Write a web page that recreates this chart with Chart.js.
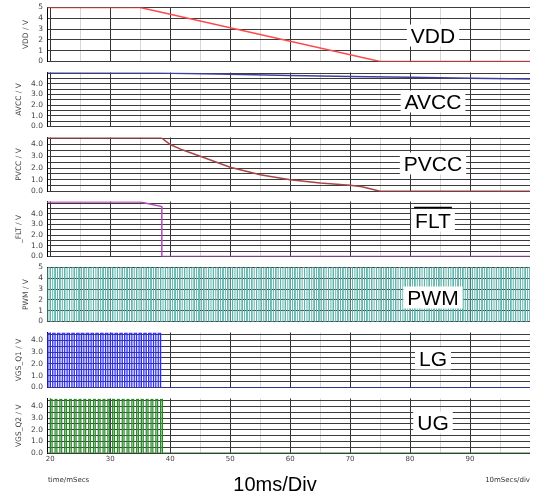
<!DOCTYPE html>
<html>
<head>
<meta charset="utf-8">
<script src="https://cdn.jsdelivr.net/npm/chart.js@4"></script>
<style>
  body { margin: 0; background: #fff; }
  #wrap { position: relative; width: 535px; height: 497px; overflow: hidden; }
  .panel { position: absolute; left: 0; width: 535px; }
</style>
</head>
<body>
<div id="wrap"></div>
<script>
// ==== Data (time in ms, values in V) ====
const xLabels = [20, 30, 40, 50, 60, 70, 80, 90];

const vddTime = [19.45, 35, 75, 100];
const vddVolts = [5, 5, 0, 0];

const avccTime = [19.45, 38, 50, 60, 70, 80, 90, 100];
const avccVolts = [5.02, 5.0, 4.88, 4.78, 4.68, 4.6, 4.52, 4.44];

const pvccTime = [19.45, 38.5, 40, 42, 45, 50, 55, 60, 65, 70, 72, 75, 100];
const pvccVolts = [4.58, 4.58, 4.0, 3.55, 3.0, 2.06, 1.42, 1.0, 0.72, 0.53, 0.4, 0.03, 0.03];

const fltTime = [19.45, 35, 38.6, 38.6, 100];
const fltVolts = [5.1, 5.1, 4.68, 0, 0];

// square waves: rising edge times, pulse width and high level
const pwmRise = [
  19.6, 20.4, 21.2, 22.0, 22.8, 23.6, 24.4, 25.2, 26.0, 26.8,
  27.6, 28.4, 29.2, 30.0, 30.8, 31.6, 32.4, 33.2, 34.0, 34.8,
  35.6, 36.4, 37.2, 38.0, 38.8, 39.6, 40.4, 41.2, 42.0, 42.8,
  43.6, 44.4, 45.2, 46.0, 46.8, 47.6, 48.4, 49.2, 50.0, 50.8,
  51.6, 52.4, 53.2, 54.0, 54.8, 55.6, 56.4, 57.2, 58.0, 58.8,
  59.6, 60.4, 61.2, 62.0, 62.8, 63.6, 64.4, 65.2, 66.0, 66.8,
  67.6, 68.4, 69.2, 70.0, 70.8, 71.6, 72.4, 73.2, 74.0, 74.8,
  75.6, 76.4, 77.2, 78.0, 78.8, 79.6, 80.4, 81.2, 82.0, 82.8,
  83.6, 84.4, 85.2, 86.0, 86.8, 87.6, 88.4, 89.2, 90.0, 90.8,
  91.6, 92.4, 93.2, 94.0, 94.8, 95.6, 96.4, 97.2, 98.0, 98.8,
  99.6
];
const pwmWidth = 0.4;
const pwmHigh = 5;

const lgRise = pwmRise.filter(t => t <= 38.0);
const lgWidth = 0.4;
const lgHigh = 4.6;

const ugRise = [
  20.0, 20.8, 21.6, 22.4, 23.2, 24.0, 24.8, 25.6, 26.4, 27.2,
  28.0, 28.8, 29.6, 30.4, 31.2, 32.0, 32.8, 33.6, 34.4, 35.2,
  36.0, 36.8, 37.6, 38.4
];
const ugWidth = 0.3;
const ugHigh = 4.6;

const tStart = 19.45, tEnd = 100;

function toPoints(xs, ys) {
  return xs.map((x, i) => ({ x: x, y: ys[i] }));
}

function squareWave(rises, width, high) {
  const pts = [{ x: tStart, y: 0 }];
  rises.forEach(r => {
    const f = Math.min(r + width, tEnd);
    pts.push({ x: r, y: 0 }, { x: r, y: high }, { x: f, y: high }, { x: f, y: 0 });
  });
  pts.push({ x: tEnd, y: 0 });
  return pts;
}

// ==== Panels ====
const panels = [
  { title: "VDD / V", top: 7, bottom: 62, max: 5, step: 1, ints: true, titlePad: 22,
    label: "VDD", dy: 28, color: "#ff4a4a", width: 1.5, data: toPoints(vddTime, vddVolts) },
  { title: "AVCC / V", top: 72, bottom: 127, max: 5.05, step: 0.5, titlePad: 15,
    label: "AVCC", dy: 29, color: "#40409c", width: 1.5, data: toPoints(avccTime, avccVolts) },
  { title: "PVCC / V", top: 137, bottom: 192, max: 4.6, step: 0.5, titlePad: 15,
    label: "PVCC", dy: 26, color: "#a84545", width: 1.5, data: toPoints(pvccTime, pvccVolts) },
  { title: "_FLT / V", top: 201, bottom: 257, max: 5.15, step: 0.5, titlePad: 15,
    label: "FLT", overline: true, dy: 19, color: "#b44cbc", width: 1.5, data: toPoints(fltTime, fltVolts) },
  { title: "PWM / V", top: 267, bottom: 322, max: 5, step: 1, ints: true, titlePad: 22,
    label: "PWM", dy: 30, color: "#5db4ab", width: 1, data: squareWave(pwmRise, pwmWidth, pwmHigh) },
  { title: "VGS_Q1 / V", top: 332, bottom: 388, max: 4.65, step: 0.5, titlePad: 15,
    label: "LG", dy: 26, color: "#2a2af0", fill: "rgba(110,110,255,0.25)", width: 1.2,
    data: squareWave(lgRise, lgWidth, lgHigh) },
  { title: "VGS_Q2 / V", top: 398, bottom: 453, max: 4.68, step: 0.5, titlePad: 15,
    label: "UG", dy: 24, color: "#2a8a2a", fill: "rgba(80,170,80,0.22)", width: 1.2,
    data: squareWave(ugRise, ugWidth, ugHigh), last: true }
];

const smallFont = { family: "DejaVu Sans", size: 7.5 };

const panelLabel = {
  id: "panelLabel",
  afterDraw(chart, args, opts) {
    if (!opts.text) return;
    const { ctx, chartArea } = chart;
    ctx.save();
    ctx.font = '21px "Liberation Sans", Arial, sans-serif';
    const w = ctx.measureText(opts.text).width;
    const cx = 433, cy = chartArea.top + opts.dy;
    ctx.fillStyle = "#fff";
    ctx.fillRect(cx - w / 2 - 4, cy - 11, w + 8, 22);
    ctx.fillStyle = "#000";
    ctx.textAlign = "center";
    ctx.textBaseline = "alphabetic";
    ctx.fillText(opts.text, cx, cy + 7.5);
    if (opts.overline) {
      ctx.strokeStyle = "#000";
      ctx.lineWidth = 1.6;
      ctx.beginPath();
      ctx.moveTo(cx - w / 2 - 1, cy - 13);
      ctx.lineTo(cx + w / 2 + 1, cy - 13);
      ctx.stroke();
    }
    if (opts.footer) {
      const top = chartArea.bottom;
      ctx.font = '7px "DejaVu Sans"';
      ctx.fillStyle = "#333";
      ctx.textBaseline = "middle";
      ctx.textAlign = "left";
      ctx.fillText("time/mSecs", 48, top + 27);
      ctx.textAlign = "right";
      ctx.fillText("10mSecs/div", 530, top + 27);
      ctx.font = '20px "Liberation Sans", Arial, sans-serif';
      ctx.fillStyle = "#000";
      ctx.textAlign = "center";
      ctx.fillText("10ms/Div", 275, top + 32);
    }
    ctx.restore();
  }
};

const wrap = document.getElementById("wrap");

panels.forEach(p => {
  const div = document.createElement("div");
  div.className = "panel";
  const boxTop = p.top - 8;
  div.style.top = boxTop + "px";
  div.style.height = (p.last ? 497 - boxTop : p.bottom - p.top + 16) + "px";
  const canvas = document.createElement("canvas");
  div.appendChild(canvas);
  wrap.appendChild(div);

  new Chart(canvas, {
    type: "line",
    data: {
      datasets: [{
        data: p.data,
        borderColor: p.color,
        borderWidth: p.width,
        backgroundColor: p.fill || "transparent",
        fill: p.fill ? "origin" : false,
        pointRadius: 0,
        tension: 0
      }]
    },
    options: {
      animation: false,
      responsive: true,
      maintainAspectRatio: false,
      parsing: false,
      layout: { padding: { top: 8, bottom: p.last ? 30 : 8, left: 0, right: 5 } },
      plugins: {
        legend: { display: false },
        tooltip: { enabled: false },
        panelLabel: { text: p.label, dy: p.dy, overline: p.overline, footer: p.last }
      },
      scales: {
        x: {
          type: "linear",
          min: tStart,
          max: tEnd,
          ticks: {
            stepSize: 5,
            includeBounds: false,
            autoSkip: false,
            maxRotation: 0,
            display: !!p.last,
            padding: 2,
            font: { family: "DejaVu Sans", size: 7 },
            color: "#444",
            callback: v => xLabels.includes(v) ? String(v) : ""
          },
          grid: {
            drawTicks: false,
            color: c => {
              const v = c.tick.value;
              if (v >= 100) return "rgba(0,0,0,0)";
              return v % 10 === 0 ? "#333" : "#d6d6d6";
            }
          },
          border: { display: false },
          afterFit: s => { s.height = p.last ? 14 : 0; }
        },
        y: {
          min: 0,
          max: p.max,
          ticks: {
            stepSize: p.step,
            includeBounds: false,
            autoSkip: false,
            padding: 4,
            font: smallFont,
            color: "#444",
            callback: v => {
              if (!Number.isInteger(v)) return "";
              if (p.ints) return String(v);
              return v <= 4 ? v.toFixed(1) : "";
            }
          },
          grid: { drawTicks: false, color: "#3c3c3c" },
          border: { color: "#000", width: 1 },
          title: {
            display: true,
            text: p.title,
            font: smallFont,
            color: "#444",
            padding: { top: p.titlePad, bottom: 0 }
          },
          afterFit: s => { s.width = 47; }
        }
      }
    },
    plugins: [panelLabel]
  });
});
</script>
</body>
</html>
